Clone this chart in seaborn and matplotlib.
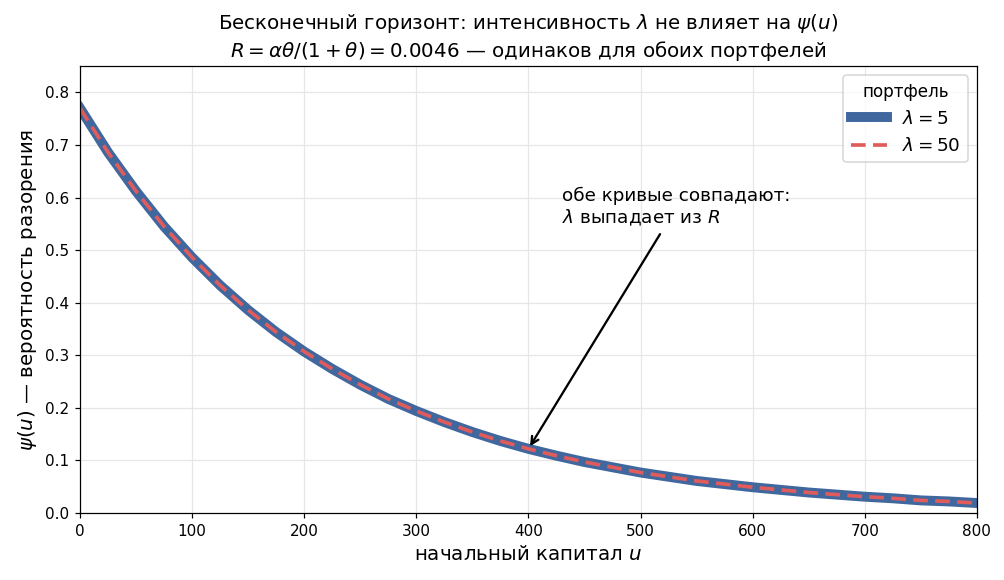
import pandas as pd
import seaborn as sns
import matplotlib.pyplot as plt

# начальный капитал и вероятность разорения
u_vals = [0, 25, 50, 75, 100, 125, 150, 175, 200, 225, 250, 275, 300, 325, 350, 375, 400,
          425, 450, 475, 500, 525, 550, 575, 600, 625, 650, 675, 700, 725, 750, 775, 800]
psi_lam5 = [0.770, 0.686, 0.612, 0.545, 0.486, 0.433, 0.386, 0.344, 0.307, 0.274, 0.244,
            0.217, 0.194, 0.173, 0.154, 0.137, 0.122, 0.109, 0.097, 0.087, 0.077, 0.069,
            0.061, 0.055, 0.049, 0.044, 0.039, 0.035, 0.031, 0.028, 0.024, 0.022, 0.019]
psi_lam50 = [0.770, 0.686, 0.612, 0.545, 0.486, 0.433, 0.386, 0.344, 0.307, 0.274, 0.244,
             0.217, 0.194, 0.173, 0.154, 0.137, 0.122, 0.109, 0.097, 0.087, 0.077, 0.069,
             0.061, 0.055, 0.049, 0.044, 0.039, 0.035, 0.031, 0.028, 0.024, 0.022, 0.019]
labels = [r'$\lambda = 5$', r'$\lambda = 50$']

df = pd.concat([
    pd.DataFrame({'u': u_vals, 'psi': psi_lam5, 'портфель': labels[0]}),
    pd.DataFrame({'u': u_vals, 'psi': psi_lam50, 'портфель': labels[1]}),
], ignore_index=True)

plt.rcParams['font.family'] = ['DejaVu Sans']
plt.rcParams['lines.solid_capstyle'] = 'projecting'

DPI = 110
fig, ax = plt.subplots(figsize=(1004 / DPI, 580 / DPI), dpi=DPI)

palette = {labels[0]: '#40679e', labels[1]: '#e05c5c'}
sns.lineplot(data=df, x='u', y='psi', hue='портфель', style='портфель',
             palette=palette, dashes={labels[0]: '', labels[1]: (4, 2)},
             ax=ax)
# толщина линий как на оригинале
ax.lines[0].set_linewidth(6.5)
ax.lines[1].set_linewidth(2.4)

ax.set_xlim(0, 800)
ax.set_ylim(0, 0.85)
ax.grid(True, color='#e6e6e6', linewidth=0.8)
ax.set_axisbelow(True)

ax.set_title('Бесконечный горизонт: интенсивность $\\lambda$ не влияет на $\\psi(u)$\n'
             '$R = \\alpha\\theta/(1+\\theta) = 0.0046$ — одинаков для обоих портфелей',
             fontsize=13)
ax.set_xlabel('начальный капитал $u$', fontsize=13)
ax.set_ylabel('$\\psi(u)$ — вероятность разорения', fontsize=13)

ax.annotate('обе кривые совпадают:\n$\\lambda$ выпадает из $R$',
            xy=(400, 0.122), xytext=(430, 0.55), fontsize=12,
            arrowprops=dict(arrowstyle='->', color='black', lw=1.5))

leg = ax.legend(title='портфель', loc='upper right', fontsize=12, title_fontsize=11)
leg.get_lines()[0].set_linewidth(6.5)
leg.get_lines()[1].set_linewidth(2.4)

fig.subplots_adjust(left=0.0797, right=0.973, top=0.886, bottom=0.1155)
plt.savefig('out.png', dpi=DPI)
